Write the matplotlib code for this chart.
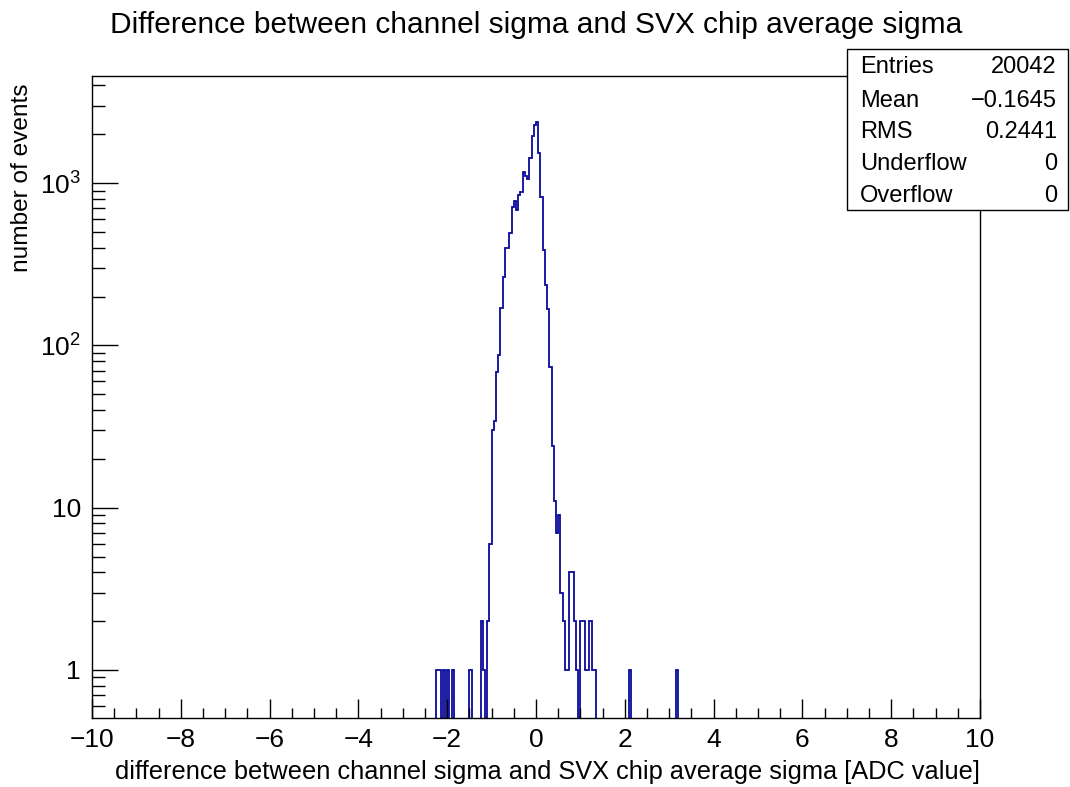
import numpy as np
import matplotlib
matplotlib.use("Agg")
import matplotlib.pyplot as plt
from matplotlib.patches import Rectangle
from matplotlib.ticker import FixedLocator, FixedFormatter, LogLocator, NullFormatter, MultipleLocator

plt.rcParams["font.family"] = ["Liberation Sans", "DejaVu Sans"]
plt.rcParams["mathtext.fontset"] = "custom"
plt.rcParams["mathtext.rm"] = "Liberation Sans"

# histogram: 400 bins of 0.05 between -10 and 10, only filled bins listed (low edge, count)
bin_low = [-2.25, -2.20, -2.10, -2.00, -1.90, -1.50, -1.25, -1.20, -1.10, -1.05,
           -1.00, -0.95, -0.90, -0.85, -0.80, -0.75, -0.70, -0.65, -0.60, -0.55,
           -0.50, -0.45, -0.40, -0.35, -0.30, -0.25, -0.20, -0.15, -0.10, -0.05,
           0.00, 0.05, 0.10, 0.15, 0.20, 0.25, 0.30, 0.35, 0.40, 0.45,
           0.50, 0.55, 0.60, 0.65, 0.70, 0.75, 0.80, 0.85, 0.90, 1.00,
           1.05, 1.10, 1.15, 1.20, 1.25, 1.30, 2.10, 3.15]
bin_count = [1, 1, 1, 1, 1, 1, 2, 1, 2, 6,
             30, 34, 69, 87, 171, 263, 400, 400, 495, 710,
             780, 680, 840, 880, 1170, 1110, 1060, 1420, 1950, 2270,
             2370, 1530, 820, 385, 235, 168, 74, 24, 11, 7,
             9, 3, 2, 1, 1, 4, 4, 2, 1, 2,
             2, 1, 1, 2, 1, 1, 1, 1]

stat_names = ["Entries", "Mean", "RMS", "Underflow", "Overflow"]
stat_values = ["20042", "\u22120.1645", "0.2441", "0", "0"]

edges = np.linspace(-10, 10, 401)
counts = np.zeros(400)
for lo, c in zip(bin_low, bin_count):
    counts[int(round((lo + 10) / 0.05))] = c

W, H = 1070, 787
fig = plt.figure(figsize=(W / 100, H / 100), dpi=100)
ax = fig.add_axes([92 / W, 1 - 718 / H, (980 - 92) / W, (718 - 76) / H])

ax.stairs(counts, edges, color="#0a0a9c", linewidth=1.3, baseline=0)
ax.set_yscale("log")
ax.set_xlim(-10, 10)
ax.set_ylim(0.506, 4570)

ax.xaxis.set_major_locator(MultipleLocator(2))
ax.xaxis.set_minor_locator(MultipleLocator(0.5))
ax.yaxis.set_major_locator(FixedLocator([1, 10, 100, 1000]))
ax.yaxis.set_major_formatter(FixedFormatter(["1", "10", r"$\mathregular{10^{2}}$", r"$\mathregular{10^{3}}$"]))
ax.yaxis.set_minor_locator(LogLocator(base=10, subs=range(2, 10)))
ax.yaxis.set_minor_formatter(NullFormatter())

ax.tick_params(axis="x", which="major", direction="in", length=14, width=1, labelsize=19, pad=7, top=False)
ax.tick_params(axis="x", which="minor", direction="in", length=7, width=1, top=False)
ax.tick_params(axis="y", which="major", direction="in", length=19, width=1, labelsize=19, pad=8, right=False)
ax.tick_params(axis="y", which="minor", direction="in", length=9.5, width=1, right=False)
for s in ax.spines.values():
    s.set_linewidth(1)

fig.text(536.5 / W, 1 - 33 / H, "Difference between channel sigma and SVX chip average sigma",
         ha="center", va="baseline", fontsize=21.5)
fig.text(980 / W, 1 - 779 / H, "difference between channel sigma and SVX chip average sigma [ADC value]",
         ha="right", va="baseline", fontsize=18.3)
fig.text(22 / W, 1 - 84 / H, "number of events", rotation=90, ha="center", va="top", fontsize=17.6)

# stats box
box = Rectangle((847 / W, 1 - 210 / H), (1067.5 - 847) / W, (210 - 49) / H,
                transform=fig.transFigure, facecolor="white", edgecolor="black", linewidth=1, zorder=10)
fig.add_artist(box)
baselines = [73.3, 106.7, 138.3, 170, 201.7]
for name, val, yb in zip(stat_names, stat_values, baselines):
    fig.text(860 / W, 1 - yb / H, name, ha="left", va="baseline", fontsize=17, zorder=11)
    fig.text(1057 / W, 1 - yb / H, val, ha="right", va="baseline", fontsize=17, zorder=11)

fig.savefig("out.png", dpi=100)
